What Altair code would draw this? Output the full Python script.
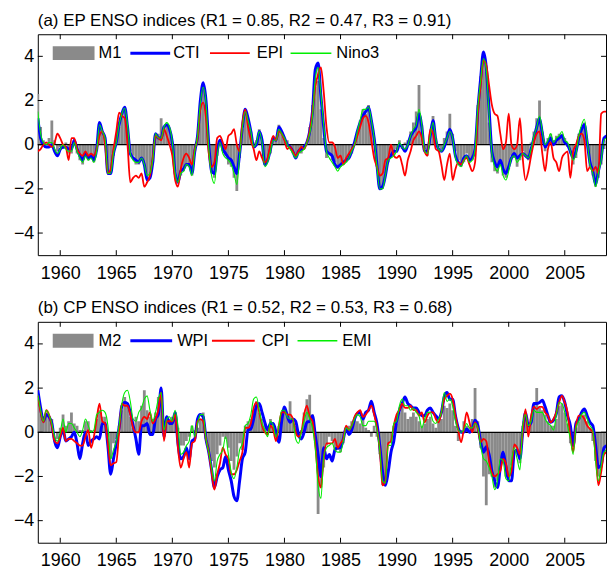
import altair as alt
import pandas as pd

FONT = "Liberation Sans"
START_YEAR = 1958
STEP = 0.25  # quarterly samples
XMIN, XMAX = 1958.0, 2008.68
W, H = 571, 222
XTICKS = [1960, 1965, 1970, 1975, 1980, 1985, 1990, 1995, 2000, 2005]
YTICKS = [-4, -2, 0, 2, 4]

# ---------------- Panel (a): EP ENSO indices ----------------
M1 = [
    2.3, 0.8, 0.2, 0.0,   0.3, 1.1, 0.2, -0.3,   -0.1, -0.2, 0.1, -0.4,   -0.4, 0.2, -0.4, -0.7,
    -0.9, -0.5, -0.7, -0.5,   -0.8, -0.3, 0.9, 0.6,   0.2, -1.2, -1.3, -0.5,   0.1, 0.8, 1.3, 1.5,
    0.8, -0.3, -0.5, -0.9,   -0.9, -0.6, -0.9, -1.5,   -1.4, -0.8, 0.4, 0.5,   1.2, 0.8, 0.9, 0.7,
    0.0, -1.2, -1.6, -1.4,   -1.2, -0.9, -1.0, -1.4,   -0.3, 0.4, 1.8, 2.5,   1.8, 0.0, -1.3, -1.5,
    -0.5, 0.1, -0.3, -0.5,   -0.9, -1.0, -1.5, -2.1,   -0.6, 0.7, 1.4, 1.1,   0.6, 0.1, 0.2, 0.7,
    0.1, -0.9, -0.7, -0.4,   0.2, 0.3, 0.9, 0.6,   0.3, 0.2, -0.1, -0.4,   -0.5, -0.3, -0.4, -0.2,
    0.0, 0.8, 1.8, 2.6,   2.9, 1.6, 0.3, -0.6,   -0.4, -0.7, -0.8, -1.1,   -1.0, -0.9, -0.8, -0.6,
    -0.4, 0.0, 0.6, 1.1,   1.6, 1.4, 1.8, 1.1,   0.2, -1.0, -1.9, -2.0,   -1.3, -0.8, -0.6, -0.5,
    -0.2, 0.2, -0.2, 0.1,   0.2, 0.6, 1.0, 1.5,   2.7, 0.9, -0.2, -0.5,   0.5, 1.3, 0.3, -0.1,
    -0.2, 0.3, 0.6, 1.4,   0.5, -0.3, -0.7, -1.0,   -0.8, -0.4, -0.8, -0.7,   -0.1, 1.8, 3.1, 4.0,
    3.3, 1.0, -0.8, -1.2,   -1.3, -0.9, -1.4, -1.5,   -1.1, -0.5, -0.6, -1.0,   -0.7, -0.3, -0.5, -0.7,
    0.1, 0.6, 1.2, 2.0,   0.6, -0.3, 0.3, 0.5,   0.2, 0.4, 0.5, 0.5,   0.3, -0.1, -0.4, -0.9,
    -0.6, 0.5, 0.8, 1.0,   0.0, -1.0, -1.4, -1.9,   -1.5, -0.9, -0.2, 0.2,
]
CTI = [
    1.2, 0.3, 0.0, -0.1,   -0.1, 0.0, -0.3, -0.5,   -0.2, -0.1, -0.1, -0.2,   -0.2, 0.2, -0.2, -0.5,
    -0.7, -0.4, -0.6, -0.5,   -0.7, -0.2, 1.0, 0.6,   0.3, -1.3, -1.3, -0.4,   0.1, 0.9, 1.4, 1.7,
    0.8, -0.4, -0.6, -0.7,   -0.8, -0.6, -0.9, -1.6,   -1.5, -0.8, 0.5, 0.3,   0.3, 0.8, 0.9, 0.7,
    0.1, -1.3, -1.7, -1.2,   -1.1, -0.9, -0.9, -1.3,   -0.3, 0.4, 2.0, 2.8,   2.0, 0.0, -1.2, -1.3,
    -0.3, 0.2, -0.2, -0.4,   -0.6, -0.7, -1.0, -1.3,   -0.4, 0.8, 1.6, 1.2,   0.6, -0.1, 0.0, 0.6,
    0.2, -0.9, -0.7, -0.2,   0.3, 0.2, 0.8, 0.6,   0.3, 0.0, -0.1, -0.3,   -0.6, -0.3, -0.2, -0.1,
    0.1, 0.6, 1.5, 3.4,   3.7, 2.2, 0.8, -0.3,   -0.4, -0.5, -0.9, -1.0,   -0.9, -0.8, -0.7, -0.6,
    -0.3, 0.1, 0.6, 1.0,   1.3, 1.5, 1.7, 1.1,   0.3, -0.9, -2.0, -1.9,   -1.4, -0.7, -0.5, -0.3,
    -0.3, 0.0, -0.1, -0.3,   0.0, 0.4, 0.6, 0.8,   1.4, 0.8, -0.3, -0.3,   0.4, 1.1, 0.2, -0.2,
    -0.3, -0.1, 0.3, 0.7,   0.3, -0.5, -0.8, -0.9,   -0.6, -0.5, -0.7, -0.6,   -0.2, 1.6, 3.0, 4.2,
    3.5, 1.6, -0.3, -0.8,   -1.0, -0.7, -1.1, -1.3,   -1.0, -0.6, -0.4, -0.6,   -0.5, -0.4, -0.5, -0.6,
    -0.2, 0.3, 0.8, 1.2,   0.5, -0.1, 0.1, 0.3,   0.0, 0.2, 0.3, 0.4,   0.1, 0.0, -0.3, -0.6,
    -0.3, 0.3, 0.7, 0.9,   0.1, -0.8, -1.2, -1.8,   -1.2, -0.6, 0.3, 0.4,
]
EPI = [
    -0.3, -0.2, 0.0, 0.1,   0.0, -0.1, 0.1, 0.5,   0.3, 0.0, -0.1, -0.7,   0.3, 0.3, -0.2, -0.4,
    -0.5, -0.3, -0.5, -0.4,   -0.5, -0.2, 0.4, 0.6,   0.0, -1.3, -1.1, -0.2,   0.6, 1.45, 1.3, 1.2,
    0.0, -1.7, -1.5, -1.4,   -1.5, -1.3, -1.9, -1.7,   -1.4, -0.6, 0.4, 0.3,   0.2, 0.7, 0.4, 0.0,
    -0.5, -1.6, -1.9, -1.1,   -0.6, -0.4, -0.6, -0.9,   -0.2, 0.3, 1.6, 1.9,   1.2, -0.4, -1.0, -0.8,
    0.3, 0.4, 0.1, -0.2,   0.4, 0.5, 0.7, 0.0,   -0.3, 1.0, 1.6, 0.8,   0.2, -0.2, -0.7, -0.3,
    -0.6, -0.8, -0.6, 0.0,   0.4, 0.2, 0.6, 0.5,   0.2, -0.2, -0.1, -0.3,   -0.5, -0.3, -0.1, -0.2,
    0.1, 0.6, 1.5, 2.6,   3.2, 3.5, 2.4, 0.8,   0.1, 0.1, -0.1, -0.6,   -0.5, -0.9, -0.6, -0.4,
    -0.2, 0.0, 0.4, 0.8,   1.2, 1.3, 1.0, 0.2,   -0.6, -1.0, -1.4, -1.3,   -0.7, -0.6, 0.0, -0.5,
    -0.6, -0.5, -0.9, -1.4,   -0.7, -0.3, 0.2, 0.4,   0.6, 0.3, -0.3, -0.5,   0.7, 0.5, -0.2, -0.3,
    -0.9, -1.6, -0.9, -0.4,   -1.6, -1.1, -0.8, -0.9,   -0.7, -0.6, -0.9, -1.2,   -0.8, 1.4, 2.7, 3.8,
    3.6, 2.7, 1.8, 1.4,   1.3, 0.5, -0.2, 0.1,   1.4, 0.0, -0.2, 0.0,   1.2, -0.6, -1.6, -1.2,
    -0.5, 0.1, 0.5, 0.6,   -0.4, -1.2, -0.2, 0.1,   -0.6, -0.8, -1.2, -0.6,   -0.4, -0.3, -1.5, -0.3,
    0.0, 0.4, 0.5, 0.2,   -1.2, -1.0, -1.2, -1.0,   -1.3, 1.4, 1.5, 1.5,
]
NINO3 = [
    1.5, 0.5, 0.1, 0.0,   0.1, 0.1, -0.2, -0.4,   -0.2, 0.0, -0.2, -0.3,   -0.3, 0.1, -0.3, -0.6,
    -0.8, -0.5, -0.7, -0.6,   -0.8, -0.3, 0.9, 0.6,   0.3, -1.3, -1.3, -0.4,   0.1, 0.9, 1.4, 1.65,
    0.9, -0.4, -0.7, -0.8,   -0.8, -0.6, -0.9, -1.4,   -1.3, -0.7, 0.5, 0.3,   0.3, 0.8, 1.0, 0.8,
    0.1, -1.3, -1.7, -1.3,   -1.2, -0.9, -1.0, -1.4,   -0.3, 0.4, 1.9, 2.6,   1.9, -0.2, -1.4, -1.75,
    -0.5, 0.1, -0.4, -0.6,   -0.7, -0.9, -1.3, -1.8,   -0.5, 0.8, 1.5, 1.1,   0.6, -0.1, 0.1, 0.6,
    0.1, -1.0, -0.8, -0.3,   0.2, 0.2, 0.7, 0.5,   0.3, 0.0, -0.2, -0.4,   -0.6, -0.4, -0.3, -0.2,
    0.1, 0.5, 1.3, 3.0,   3.5, 2.3, 0.9, -0.3,   -0.6, -0.8, -1.0, -1.2,   -1.0, -0.9, -0.8, -0.6,
    -0.3, 0.0, 0.6, 1.1,   1.6, 1.6, 1.7, 1.1,   0.3, -1.0, -2.0, -2.0,   -1.4, -0.7, -0.6, -0.5,
    -0.3, 0.1, -0.1, -0.2,   0.0, 0.4, 0.7, 0.9,   1.6, 0.9, -0.3, -0.4,   0.4, 1.0, 0.3, -0.2,
    -0.3, 0.0, 0.3, 0.6,   0.3, -0.6, -0.9, -1.0,   -0.7, -0.5, -0.8, -0.7,   -0.2, 1.7, 2.9, 3.9,
    3.4, 1.4, -0.4, -1.0,   -1.2, -0.9, -1.4, -1.6,   -1.2, -0.6, -0.5, -0.8,   -0.6, -0.4, -0.5, -0.6,
    -0.2, 0.4, 0.8, 1.3,   0.6, 0.0, 0.2, 0.5,   0.1, 0.3, 0.4, 0.6,   0.2, 0.1, -0.3, -0.7,
    -0.4, 0.4, 0.9, 1.15,   0.2, -0.9, -1.3, -1.9,   -1.3, -0.7, 0.2, 0.3,
]

# ---------------- Panel (b): CP ENSO indices ----------------
M2 = [
    1.5, 1.0, 0.6, 0.9,   0.7, 0.6, 0.0, -0.3,   0.2, 0.8, 0.3, 0.5,   0.9, 0.4, 0.3, 0.1,
    0.1, 0.5, 0.5, 0.1,   0.0, 0.6, 1.0, 0.7,   0.7, -0.2, -1.2, -0.5,   -0.3, 0.3, 1.0, 1.6,
    1.2, 0.7, 0.2, 0.7,   0.5, 1.2, 1.9, 1.0,   0.7, 0.6, 0.9, 1.6,   1.8, 0.2, 0.5, 0.6,
    0.7, 0.9, 0.2, -0.6,   -0.6, -0.4, -0.2, 0.3,   0.1, 0.2, 0.6, 0.9,   -0.3, -0.8, -1.3, -1.6,
    -1.0, -0.6, -0.2, -0.3,   -0.7, -1.3, -1.7, -1.1,   -0.5, -0.8, 0.3, 0.5,   0.6, 1.0, 1.4, 0.9,
    0.6, 0.4, 0.0, 0.6,   0.4, -0.2, 0.3, 0.9,   1.0, 0.8, 1.4, 0.5,   0.3, -0.2, 0.1, 0.9,
    1.5, 1.7, 0.8, -0.5,   -3.7, -2.5, -1.6, -0.6,   -0.2, -0.4, -0.9, -0.8,   -0.9, -0.5, 0.2, 0.3,
    0.5, 0.6, 0.5, 0.4,   0.6, 0.2, 0.1, -0.2,   0.3, -0.2, -1.0, -2.4,   -2.2, -0.6, -0.5, 0.3,
    0.4, 0.9, 1.2, 0.9,   0.6, 0.7, 0.9, 0.7,   0.5, 0.3, 0.4, 0.6,   0.7, 0.4, 0.2, 0.5,
    0.6, 1.2, 1.1, 1.3,   1.0, 0.3, -0.4, 0.1,   0.5, 0.3, 0.2, 0.6,   2.0, 0.5, -0.7, -2.0,
    -3.3, -1.9, -2.0, -2.5,   -2.2, -1.4, -1.4, -2.0,   -2.0, -1.5, -0.7, -1.0,   -1.4, 0.3, 0.8, 0.4,
    0.6, 1.2, 2.0, 1.1,   1.0, 0.8, 0.5, 0.3,   0.3, 0.6, 1.2, 1.3,   0.9, 0.4, -0.5, -0.6,
    0.2, 0.5, 0.7, 0.8,   0.5, 0.2, -0.4, -1.3,   -2.0, -1.6, -1.0, -0.9,
]
WPI = [
    1.9, 1.1, 0.5, 0.8,   0.7, 0.4, -0.4, -0.7,   -0.2, 0.1, -0.4, -0.3,   -0.2, 0.0, -0.5, -1.2,
    -0.5, 0.0, -0.6, -0.4,   -0.3, -0.2, -0.3, 0.4,   0.4, -0.6, -1.9, -1.2,   -0.5, 0.2, 1.2, 1.35,
    1.3, 0.9, 0.3, -0.3,   -1.0, 0.3, 0.3, 0.4,   -0.1, -0.1, 0.6, 0.8,   2.0, -0.2, 0.7, 0.4,
    0.4, 0.9, -0.5, -1.2,   -1.1, -0.7, -1.2, -0.4,   -0.3, 0.6, 0.8, 0.7,   -0.3, -0.9, -1.7, -2.5,
    -2.0, -1.7, -1.6, -1.1,   -1.7, -2.2, -2.9, -3.1,   -2.2, -1.2, -0.9, 0.1,   0.15, 0.6, 1.2, 1.3,
    0.9, 0.45, 0.1, 0.4,   0.4, 0.0, -0.45, 0.5,   1.15, 0.75, 0.45, 0.6,   0.5, -0.1, -0.3, 0.0,
    0.45, 0.5, 0.75, -0.15,   -1.0, -2.0, -0.7, -1.2,   -1.0, -1.3, -0.8, -0.7,   -0.7, -0.3, 0.2, -0.1,
    0.1, 0.6, 0.85, 0.9,   0.6, 0.9, 1.0, 1.4,   0.9, 0.4, -0.6, -1.8,   -2.4, -1.8, -0.9, -0.4,
    0.5, 1.0, 1.3, 1.6,   1.3, 1.2, 1.1, 1.1,   0.9, 0.75, 0.75, 1.0,   1.1, 0.9, 0.75, 0.6,
    0.9, 1.6, 1.8, 1.5,   1.5, 0.75, 0.2, 0.0,   0.0, 0.15, 0.0, 0.15,   0.55, 0.3, -0.45, -0.9,
    -0.65, -1.0, -1.75, -2.2,   -2.5, -1.6, -0.9, -1.55,   -2.2, -2.2, -0.9, -0.8,   -1.2, 0.0, 0.9, 0.3,
    0.45, 1.3, 1.3, 1.35,   1.45, 1.15, 0.75, 0.45,   0.55, 0.85, 1.6, 1.65,   1.35, 0.75, 0.3, -0.6,
    0.4, 0.6, 0.9, 1.05,   0.75, 0.45, 0.3, -0.6,   -1.6, -1.5, -0.7, -0.6,
]
CPI = [
    1.65, 0.9, 0.45, 1.0,   0.8, 0.3, -0.4, -0.5,   -0.2, 0.2, -0.4, -0.3,   -0.3, -0.4, -0.5, -0.6,
    -0.6, -0.2, 0.1, -0.7,   -0.2, 0.6, 1.3, 0.5,   0.4, -0.5, -1.5, -1.4,   -1.35, 0.0, 1.3, 1.2,
    1.2, 0.8, 0.2, 0.0,   0.0, 0.5, 0.7, 0.6,   0.9, 0.4, 0.6, 1.0,   1.8, -0.4, 0.5, 0.5,
    0.5, 0.8, -0.7, -1.6,   -1.2, -0.9, -1.6, -0.5,   -0.4, 0.5, 0.6, 0.5,   -0.3, -0.9, -1.8, -2.6,
    -1.9, -1.4, -0.7, -1.0,   -1.2, -1.9, -1.9, -1.7,   -1.3, -0.9, 0.2, 0.2,   0.4, 1.1, 1.35, 0.9,
    0.3, 0.0, -0.1, 0.3,   0.1, -0.4, 0.3, 0.9,   0.9, 0.8, 0.8, 0.6,   0.0, -0.2, 0.0, 0.8,
    1.2, 0.7, 0.5, -0.6,   -2.0, -2.5, -1.2, -0.5,   -0.5, -0.5, -0.3, -0.7,   -0.5, -0.3, 0.3, 0.1,
    0.3, 0.7, 0.9, 1.0,   0.7, 0.8, 1.0, 1.2,   0.8, 0.2, -0.8, -2.4,   -2.2, -0.5, -0.4, 0.3,
    0.8, 1.0, 1.3, 1.1,   1.1, 1.2, 1.0, 1.0,   0.75, 0.9, 0.45, 0.75,   0.9, 0.9, 0.6, 0.45,
    0.9, 1.5, 1.65, 1.75,   1.5, 0.75, 0.1, -0.45,   0.15, 0.9, 0.45, 0.0,   0.45, 0.15, -0.45, -0.3,
    -0.4, -1.3, -1.85, -2.0,   -1.9, -1.75, -1.2, -1.4,   -2.0, -1.75, -0.55, -0.7,   -1.0, 0.0, 1.05, -0.2,
    0.75, 1.15, 1.05, 1.15,   1.15, 0.9, 0.75, 0.45,   0.6, 0.9, 1.35, 1.65,   1.35, 0.9, -0.15, -0.9,
    0.3, 0.75, 0.75, 0.6,   0.3, 0.15, 0.0, -1.0,   -2.4, -1.8, -1.0, -0.9,
]
EMI = [
    1.7, 1.0, 0.5, 1.0,   0.8, 0.4, -0.2, -0.4,   0.0, 0.6, 0.0, 0.4,   0.4, 0.2, 0.0, -0.2,
    0.1, 0.6, 0.3, 0.0,   0.1, 0.8, 0.9, 1.0,   0.9, 0.3, -1.2, -0.8,   -0.4, 0.3, 1.3, 1.8,
    1.9, 1.4, 0.6, 0.5,   0.9, 1.1, 1.5, 1.65,   1.0, 0.5, 0.9, 1.5,   1.8, 0.1, 0.6, 0.7,
    0.5, 1.0, 0.3, -1.0,   -0.9, -0.6, -0.4, 0.3,   -0.2, 0.4, 0.8, 0.8,   -0.3, -0.9, -1.6, -2.2,
    -1.3, -1.0, -0.8, -0.2,   -1.0, -1.8, -2.1, -1.6,   -0.8, -0.5, 0.3, 0.4,   0.8, 1.5, 1.6, 1.0,
    0.4, 0.1, -0.2, 0.5,   0.3, -0.2, 0.3, 1.0,   1.0, 0.7, 0.6, 0.6,   -0.3, -0.5, 0.0, 0.5,
    0.9, 0.6, 0.2, -0.7,   -2.4, -3.0, -1.1, -0.7,   -0.6, -0.5, -0.8, -0.9,   -0.9, -0.4, 0.2, 0.1,
    0.3, 0.6, 0.8, 0.7,   0.3, 0.3, 0.5, 0.5,   0.5, 0.1, -0.8, -2.2,   -2.3, -0.6, -0.6, 0.4,
    0.5, 1.2, 1.5, 1.2,   1.2, 1.0, 1.1, 0.9,   0.75, 0.2, 0.6, 0.9,   0.9, 0.5, 0.4, 0.6,
    0.9, 1.8, 1.4, 1.5,   1.2, 0.5, 0.1, 0.0,   0.1, 0.4, 0.2, 0.2,   0.4, 0.2, -0.6, -1.2,
    -1.3, -1.6, -2.0, -2.6,   -2.2, -1.2, -1.3, -2.1,   -2.2, -1.3, -0.7, -1.2,   -1.7, 0.3, 0.8, 0.3,
    0.5, 1.0, 0.9, 0.9,   0.9, 0.6, 0.4, 0.3,   0.1, 0.8, 1.35, 1.3,   0.9, 0.3, -0.3, -1.0,
    0.2, 0.5, 0.8, 0.9,   0.6, 0.3, 0.1, -1.3,   -2.2, -1.5, -0.9, -0.8,
]

GRAY = "#8a8a8a"


def times(n):
    return [START_YEAR + i * STEP for i in range(n)]


def panel(title, bar_name, bar_vals, names, series, colors, widths, leg):
    xs = alt.Scale(domain=[XMIN, XMAX], nice=False, zero=False)
    ys = alt.Scale(domain=[-5, 5], nice=False, zero=False)
    t = times(len(bar_vals))
    bar_df = pd.DataFrame({"t": t, "v": bar_vals})
    bars = (
        alt.Chart(bar_df)
        .transform_calculate(t0="datum.t - 0.125", t1="datum.t + 0.125")
        .mark_bar(color=GRAY, clip=True)
        .encode(
            x=alt.X("t0:Q", scale=xs,
                    axis=alt.Axis(values=XTICKS, format="d", ticks=False, domain=False,
                                  grid=False, labelFont=FONT, labelFontSize=18,
                                  labelPadding=9, labelColor="black", title=None,
                                  labelOverlap=False)),
            x2="t1:Q",
            y=alt.Y("v:Q", scale=ys,
                    axis=alt.Axis(values=YTICKS, ticks=False, domain=False, grid=False,
                                  labelFont=FONT, labelFontSize=18, labelPadding=4,
                                  labelColor="black", title=None, minExtent=37,
                                  maxExtent=37)),
            y2=alt.datum(0),
        )
    )
    zero = (
        alt.Chart(pd.DataFrame({"z": [0]}))
        .mark_rule(color="black", strokeWidth=1.3)
        .encode(y=alt.Y("z:Q", scale=ys))
    )
    layers = [bars, zero]
    for name, vals, c, w in zip(names, series, colors, widths):
        df = pd.DataFrame({"t": times(len(vals)), "v": vals})
        layers.append(
            alt.Chart(df)
            .mark_line(color=c, strokeWidth=w, clip=True, interpolate="monotone")
            .encode(x=alt.X("t:Q", scale=xs), y=alt.Y("v:Q", scale=ys))
        )
    xt = alt.Chart(pd.DataFrame({"t": XTICKS}))
    yt = alt.Chart(pd.DataFrame({"v": YTICKS}))
    layers += [
        xt.mark_rule(color="black", strokeWidth=1).encode(
            x=alt.X("t:Q", scale=xs), y=alt.value(H), y2=alt.value(H - 5)),
        xt.mark_rule(color="black", strokeWidth=1).encode(
            x=alt.X("t:Q", scale=xs), y=alt.value(0), y2=alt.value(5)),
        yt.mark_rule(color="black", strokeWidth=1).encode(
            y=alt.Y("v:Q", scale=ys), x=alt.value(0), x2=alt.value(5)),
        yt.mark_rule(color="black", strokeWidth=1).encode(
            y=alt.Y("v:Q", scale=ys), x=alt.value(W - 5), x2=alt.value(W)),
    ]
    # legend (drawn inside the plot, top-left)
    one = alt.Chart(pd.DataFrame({"a": [0]}))
    cy = 19
    layers.append(one.mark_rect(color=GRAY).encode(
        x=alt.value(leg[0][0]), x2=alt.value(leg[0][1]), y=alt.value(12), y2=alt.value(26)))
    layers.append(one.mark_text(align="left", baseline="middle", font=FONT, fontSize=16.5,
                                color="black").encode(
        x=alt.value(leg[0][2]), y=alt.value(cy), text=alt.value(bar_name)))
    for (x0, x1, xt_), name, c, w in zip(leg[1:], names, colors, widths):
        layers.append(one.mark_rule(color=c, strokeWidth=max(w, 1.5)).encode(
            x=alt.value(x0), x2=alt.value(x1), y=alt.value(cy)))
        layers.append(one.mark_text(align="left", baseline="middle", font=FONT,
                                    fontSize=16.5, color="black").encode(
            x=alt.value(xt_), y=alt.value(cy), text=alt.value(name)))
    return alt.layer(*layers).properties(
        width=W, height=H,
        title=alt.TitleParams(text=title, anchor="start", frame="group", font=FONT,
                              fontSize=17, fontWeight="normal", color="black",
                              offset=4),
    )


pa = panel("(a) EP ENSO indices (R1 = 0.85, R2 = 0.47, R3 = 0.91)", "M1", M1,
           ["CTI", "EPI", "Nino3"], [CTI, EPI, NINO3],
           ["#0000ff", "#ff0000", "#00ee00"], [3.0, 1.8, 1.1],
           [(15, 57, 61), (93, 133, 136), (173, 213, 220), (254, 295, 300)])
pb = panel("(b) CP ENSO indices (R1 = 0.52, R2 = 0.53, R3 = 0.68)", "M2", M2,
           ["WPI", "CPI", "EMI"], [WPI, CPI, EMI],
           ["#0000ff", "#ff0000", "#00ee00"], [3.0, 1.8, 1.1],
           [(15, 56, 61), (93, 135, 140), (175, 218, 225), (261, 301, 306)])

chart = (
    alt.vconcat(pa, pb, spacing=16)
    .configure(padding={"left": 0, "top": 10, "right": 0, "bottom": 0}, background="white")
    .configure_view(stroke="black", strokeWidth=1)
)
chart.save("out.html", embed_options={"renderer": "svg", "actions": False})
